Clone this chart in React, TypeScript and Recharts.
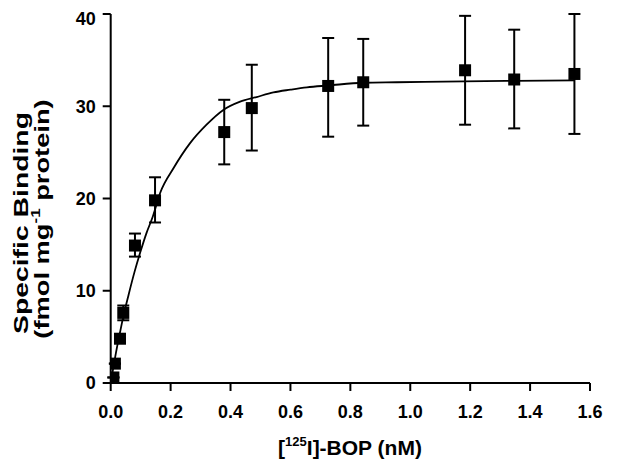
import { ComposedChart, Line, Scatter, ErrorBar, XAxis, YAxis } from "recharts";

// measured points: [125I]-BOP concentration (nM) vs specific binding
const concNM = [0.009, 0.014, 0.031, 0.042, 0.081, 0.148, 0.379, 0.471, 0.726, 0.843, 1.183, 1.347, 1.548];
const bindingMean = [0.6, 2.1, 4.8, 7.6, 14.9, 19.8, 27.2, 29.8, 32.2, 32.6, 33.9, 32.9, 33.5];
const errLow = [0, 0, 0, 0.8, 1.2, 2.4, 3.5, 4.6, 5.5, 4.7, 5.9, 5.3, 6.5];
const errHigh = [0, 0, 0, 0.8, 1.3, 2.5, 3.5, 4.7, 5.2, 4.7, 5.9, 5.4, 6.5];

// fitted saturation curve
const curveX = [0, 0.01, 0.02, 0.03, 0.04, 0.06, 0.08, 0.1, 0.12, 0.14, 0.165, 0.21, 0.265, 0.32, 0.376, 0.432, 0.487, 0.543, 0.6, 0.655, 0.727, 0.843, 0.955, 1.18, 1.35, 1.55];
const curveY = [0, 1.9, 3.7, 5.3, 6.9, 9.6, 12.1, 14.3, 16.3, 18.0, 20.6, 23.3, 26.0, 28.0, 29.6, 30.5, 31.0, 31.5, 31.8, 32.05, 32.25, 32.55, 32.6, 32.7, 32.75, 32.8];

const xTicks = [0, 0.2, 0.4, 0.6, 0.8, 1.0, 1.2, 1.4, 1.6];
const yTicks = [0, 10, 20, 30, 40];

const FONT = "'Liberation Sans', Arial, sans-serif";
const W = 632;
const H = 467;

const Square = (props: any) => {
  const { cx, cy } = props;
  if (cx == null || cy == null) return null;
  return <rect x={cx - 6} y={cy - 6} width={12} height={12} fill="#000" />;
};

export default function App() {
  const points = concNM.map((x, i) => ({
    x,
    y: bindingMean[i],
    err: [errLow[i], errHigh[i]],
  }));
  const curve = curveX.map((x, i) => ({ x, y: curveY[i] }));

  const tickStyle = { fontSize: 18, fontWeight: 700, fill: "#000", fontFamily: FONT };

  return (
    <div style={{ position: "relative", width: W, height: H, background: "#fff" }}>
      <ComposedChart width={W} height={H} margin={{ top: 6, right: 50, left: 0, bottom: 0 }}>
        <XAxis
          type="number"
          dataKey="x"
          domain={[0, 1.6]}
          ticks={xTicks}
          tickFormatter={(v: number) => v.toFixed(1)}
          height={92}
          tickSize={8}
          tickMargin={14}
          stroke="#000"
          strokeWidth={2}
          tick={tickStyle}
          allowDataOverflow
        />
        <YAxis
          type="number"
          dataKey="y"
          domain={[0, 40]}
          ticks={yTicks}
          width={102.7}
          tickSize={8}
          tickMargin={7}
          stroke="#000"
          strokeWidth={2}
          tick={tickStyle}
          allowDataOverflow
        />
        <Line
          data={curve}
          dataKey="y"
          type="monotone"
          stroke="#000"
          strokeWidth={1.8}
          dot={false}
          activeDot={false}
          isAnimationActive={false}
        />
        <Scatter data={points} dataKey="y" shape={<Square />} isAnimationActive={false}>
          <ErrorBar dataKey="err" direction="y" width={6} stroke="#000" strokeWidth={2} />
        </Scatter>
      </ComposedChart>
      <svg
        width={W}
        height={H}
        style={{ position: "absolute", left: 0, top: 0, pointerEvents: "none" }}
      >
        <g fontFamily={FONT} fontWeight={700} fill="#000">
          <text
            transform="translate(20,215) rotate(-90) scale(1.35,1)"
            textAnchor="middle"
            fontSize={21}
          >
            Specific Binding
          </text>
          <text
            transform="translate(41,211) rotate(-90) scale(1.3,1)"
            textAnchor="middle"
            fontSize={21}
          >
            (fmol mg
            <tspan dy={-9} fontSize={13}>-1</tspan>
            <tspan dy={9} fontSize={21}>{"  protein)"}</tspan>
          </text>
          <text x={342} y={447} textAnchor="middle" fontSize={21}>
            [<tspan dy={-9} fontSize={13}>125</tspan>
            <tspan dy={9} fontSize={21}>I]-BOP (nM)</tspan>
          </text>
        </g>
      </svg>
    </div>
  );
}
